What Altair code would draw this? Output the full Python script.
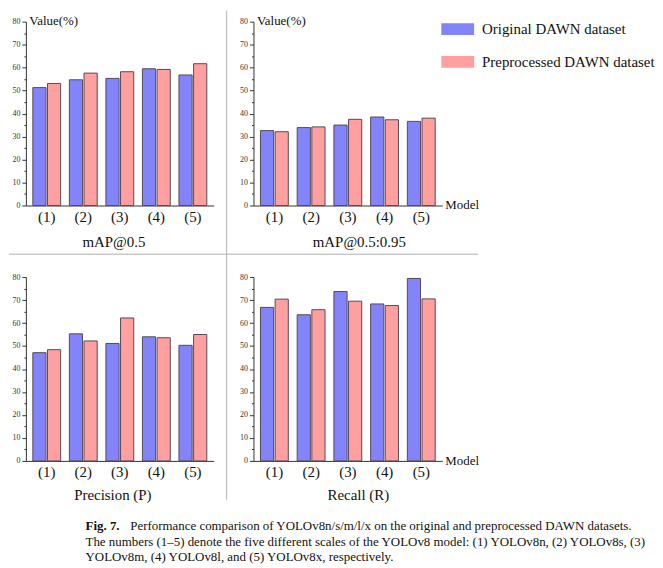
import altair as alt
import pandas as pd

SERIF = "Liberation Serif"

models = ["(1)", "(2)", "(3)", "(4)", "(5)"]
series = ["Original DAWN dataset", "Preprocessed DAWN dataset"]
colors = ["#8484FA", "#FFA0A0"]

map05_orig = [51.3, 54.7, 55.3, 59.5, 56.8]
map05_pre = [53.1, 57.6, 58.2, 59.2, 61.7]
map5095_orig = [32.6, 33.9, 35.0, 38.5, 36.6]
map5095_pre = [32.1, 34.2, 37.5, 37.3, 38.0]
prec_orig = [47.1, 55.3, 51.1, 54.0, 50.3]
prec_pre = [48.4, 52.2, 62.2, 53.6, 55.0]
rec_orig = [66.8, 63.6, 73.7, 68.3, 79.4]
rec_pre = [70.4, 65.8, 69.5, 67.6, 70.5]

caption_bold = "Fig. 7."
caption_lines = [
    "Performance comparison of YOLOv8n/s/m/l/x on the original and preprocessed DAWN datasets.",
    "The numbers (1\u20135) denote the five different scales of the YOLOv8 model: (1) YOLOv8n, (2) YOLOv8s, (3)",
    "YOLOv8m, (4) YOLOv8l, and (5) YOLOv8x, respectively.",
]

W_L, W_R, H = 189, 190, 185
dummy = pd.DataFrame({"k": [0]})

legend = alt.Legend(
    orient="none", legendX=418, legendY=-9, title=None,
    symbolType="M-1,-0.36H1V0.36H-1Z", symbolSize=1089, symbolStrokeWidth=0,
    symbolOpacity=1, labelFont=SERIF, labelFontSize=15, labelColor="#111",
    labelOffset=8, labelLimit=0, rowPadding=8, padding=0,
)


def text_mark(txt, x, y, size=13, weight="normal", align="left"):
    return alt.Chart(dummy).mark_text(
        text=txt, font=SERIF, fontSize=size, fontWeight=weight,
        align=align, baseline="middle", color="#111").encode(
        x=alt.value(x), y=alt.value(y))


def panel(orig, pre, title, width, title_x, title_y, value_label, model_label, extra=None):
    df = pd.DataFrame({
        "Model": models * 2,
        "Series": [series[0]] * 5 + [series[1]] * 5,
        "Value": orig + pre,
    })
    y_axis = alt.Axis(
        values=list(range(0, 81, 5)),
        labelExpr="datum.value % 10 == 0 ? datum.label : ''",
        tickSize={"condition": {"test": "datum.value % 10 == 0", "value": 4}, "value": 2},
        labelFont=SERIF, labelFontSize=8, labelColor="#333", labelPadding=2,
        tickColor="#333", domainColor="#333", grid=False,
        title="Value(%)" if value_label else None,
        titleAngle=0, titleX=3, titleY=-1, titleAlign="left", titleBaseline="middle",
        titleFont=SERIF, titleFontSize=13, titleFontWeight="normal", titleColor="#111",
    )
    x_axis = alt.Axis(
        labelAngle=0, ticks=False, labelFont=SERIF, labelFontSize=15, labelColor="#111",
        labelPadding=4, domainColor="#333",
        title=title, titleX=title_x, titleY=title_y, titleAlign="center",
        titleBaseline="middle", titleFont=SERIF, titleFontSize=15,
        titleFontWeight="normal", titleColor="#111",
    )
    bars = alt.Chart(df).mark_bar(stroke="#554a58", strokeWidth=1).encode(
        x=alt.X("Model:N", sort=models, axis=x_axis,
                scale=alt.Scale(paddingInner=0.238, paddingOuter=0.19)),
        xOffset=alt.XOffset("Series:N", sort=series, scale=alt.Scale(paddingInner=0.1)),
        y=alt.Y("Value:Q", axis=y_axis, scale=alt.Scale(domain=[0, 80], nice=False)),
        color=alt.Color("Series:N", sort=series,
                        scale=alt.Scale(domain=series, range=colors), legend=legend),
    )
    layers = [bars]
    if model_label:
        layers.append(text_mark("Model", width + 3, H, size=13))
    layers += extra or []
    return alt.layer(*layers).properties(width=width, height=H)


vline = alt.Chart(dummy).mark_rule(color="#b0b0b0", strokeWidth=1).encode(
    x=alt.value(202), y=alt.value(-11), y2=alt.value(481))
hline = alt.Chart(dummy).mark_rule(color="#b0b0b0", strokeWidth=1).encode(
    x=alt.value(-17), x2=alt.value(455), y=alt.value(234))

cap = [
    text_mark(caption_bold, 60, 251, weight="bold"),
    text_mark(caption_lines[0], 105, 251),
    text_mark(caption_lines[1], 60, 267),
    text_mark(caption_lines[2], 60, 282),
]

p1 = panel(map05_orig, map05_pre, "mAP@0.5", W_L, 88, 36, True, False, [vline, hline])
p2 = panel(map5095_orig, map5095_pre, "mAP@0.5:0.95", W_R, 106, 36, True, True)
p3 = panel(prec_orig, prec_pre, "Precision (P)", W_L, 87, 34, False, False, cap)
p4 = panel(rec_orig, rec_pre, "Recall (R)", W_R, 105, 34, False, True)

chart = alt.concat(
    p1, p2, p3, p4, columns=2,
    spacing={"row": 72, "column": 40}, bounds="flush",
).properties(padding=0, background="white").configure_view(stroke=None)

chart.save("out.html", embed_options={"renderer": "svg", "actions": False})
